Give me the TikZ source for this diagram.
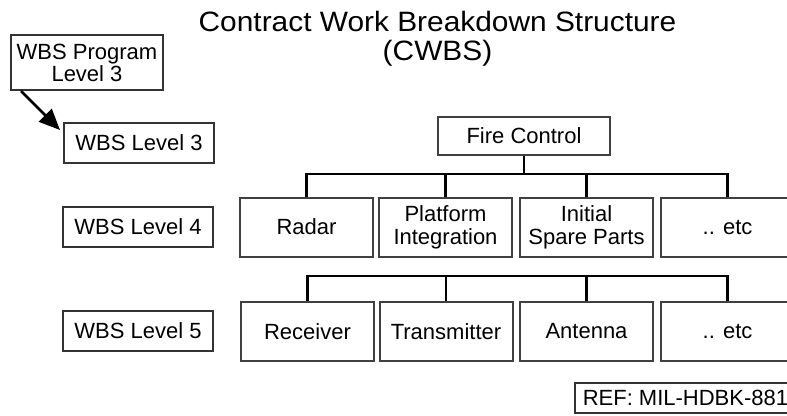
\documentclass[tikz,border=0pt]{standalone}
\usepackage{fontspec}
\setmainfont{Liberation Sans}
\usetikzlibrary{arrows.meta}

\begin{document}
\begin{tikzpicture}[x=1pt,y=-1pt,
 box/.style={draw=black!75,line width=2pt,inner sep=0pt,minimum width=133pt,minimum height=59pt,align=center,font=\fontsize{22}{23}\selectfont},
 lvl/.style={draw=black!80,line width=2pt,inner sep=0pt,minimum width=150pt,minimum height=40pt,align=center,font=\fontsize{22}{22}\selectfont},
 link/.style={line width=2.5pt}]
 \useasboundingbox (0,0) rectangle (787,415);
 % title
 \node[anchor=base,font=\fontsize{28}{28}\selectfont] (title) at (437.5,31) {\scalebox{1.067}[1]{Contract Work Breakdown Structure}};
 \node[anchor=base,font=\fontsize{28}{28}\selectfont] (cwbs) at (437.5,60) {\scalebox{1.067}[1]{(CWBS)}};
 % level labels
 \node[lvl,minimum width=152pt,minimum height=55pt] (prog) at (87,62.5) {WBS Program\\Level 3};
 \node[lvl] (lv3) at (139,143) {WBS Level 3};
 \node[lvl] (lv4) at (138,227) {WBS Level 4};
 \node[lvl] (lv5) at (138,331) {WBS Level 5};
 \coordinate (tip) at (60,130);
 \draw[link,-{Triangle[length=21pt,width=18pt]}] ([xshift=11pt]prog.south west) -- (tip);
 % level 3
 \node[box,minimum width=172pt,minimum height=38pt] (fire) at (524,136) {Fire Control};
 % level 4
 \node[box] (radar) at (306.5,227) {Radar};
 \node[box] (platform) at (445.5,227) {Platform\\Integration};
 \node[box] (spares) at (586.5,227) {Initial\\Spare Parts};
 \node[box] (etc4) at (727.5,227) {.. etc};
 % level 5
 \node[box] (receiver) at (307.5,331.5) {Receiver};
 \node[box] (transmitter) at (446,331.5) {Transmitter};
 \node[box] (antenna) at (586.5,331.5) {Antenna};
 \node[box] (etc5) at (727.5,331.5) {.. etc};
 % connectors
 \draw[link] (fire.south) -- ++(0,18) coordinate (bus4);
 \draw[link] (radar.north) |- (bus4) -| (etc4.north);
 \draw[link] (platform.north) -- (platform.north |- bus4);
 \draw[link] (spares.north) -- (spares.north |- bus4);
 \draw[link] (receiver.north) -- ++(0,-25) coordinate (bus5) -| (etc5.north);
 \draw[link] (transmitter.north) -- (transmitter.north |- bus5);
 \draw[link] (antenna.north) -- (antenna.north |- bus5);
 % reference
 \node[draw=black!80,line width=1.5pt,minimum height=30pt,inner ysep=0pt,inner xsep=8pt,anchor=west,font=\fontsize{22}{22}\selectfont] (ref) at (574,398) {REF: MIL-HDBK-881};
\end{tikzpicture}
\end{document}
